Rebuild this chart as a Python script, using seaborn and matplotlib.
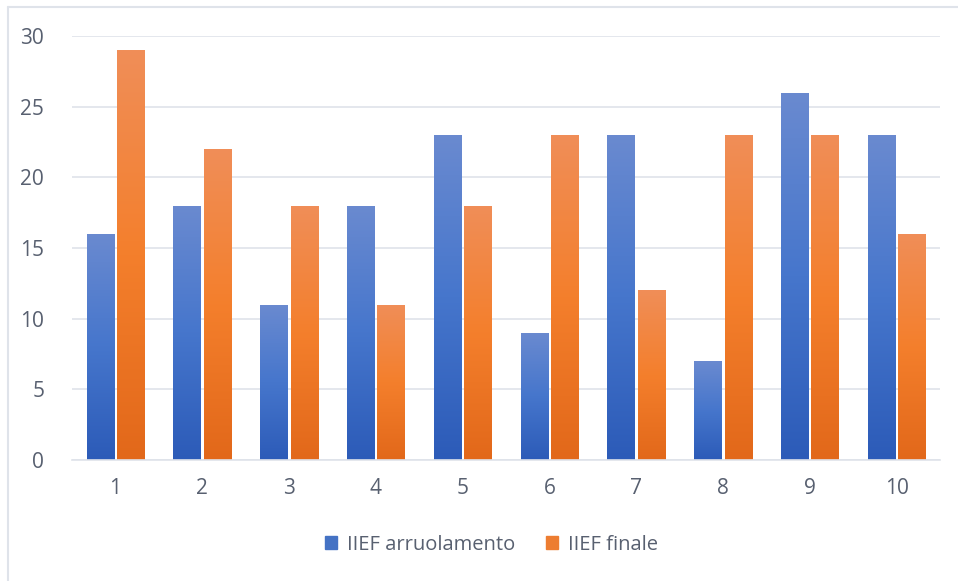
import numpy as np
import pandas as pd
import matplotlib
matplotlib.use('Agg')
import matplotlib.pyplot as plt
from matplotlib.colors import LinearSegmentedColormap
from matplotlib.patches import Rectangle
from matplotlib.lines import Line2D
import seaborn as sns

# Data
pazienti = ['1', '2', '3', '4', '5', '6', '7', '8', '9', '10']
iief_arruolamento = [16, 18, 11, 18, 23, 9, 23, 7, 26, 23]
iief_finale = [29, 22, 18, 11, 18, 23, 12, 23, 23, 16]
serie = ['IIEF arruolamento', 'IIEF finale']

df = pd.DataFrame({
    'Paziente': pazienti * 2,
    'Valore': iief_arruolamento + iief_finale,
    'Serie': [serie[0]] * len(pazienti) + [serie[1]] * len(pazienti),
})

sns.set_theme(style='white')
plt.rcParams['font.family'] = ['Open Sans', 'DejaVu Sans']

W, H = 958, 581
fig = plt.figure(figsize=(9.58, 5.81), dpi=100)
ax = fig.add_axes([72 / W, 1 - 460 / H, 868 / W, 424 / H])

colors = {'IIEF arruolamento': '#4472c4', 'IIEF finale': '#ed7d31'}
sns.barplot(data=df, x='Paziente', y='Valore', hue='Serie', palette=colors,
            width=0.70, gap=0.11, ax=ax, legend=False)

# gradient fill like Excel
grad = {
    'IIEF arruolamento': LinearSegmentedColormap.from_list('b', ['#2c5bb8', '#4676cc', '#6a8ad0']),
    'IIEF finale': LinearSegmentedColormap.from_list('o', ['#e2681a', '#f47f2c', '#f08e58']),
}
ax.set_ylim(0, 30)
ax.set_xlim(-0.5, 9.5)
for cont, name in zip(ax.containers, serie):
    for bar in cont:
        x0, y0 = bar.get_x(), bar.get_y()
        w, h = bar.get_width(), bar.get_height()
        bar.set_facecolor('none')
        bar.set_edgecolor('none')
        g = np.linspace(0, 1, 256).reshape(-1, 1)
        im = ax.imshow(g, cmap=grad[name], origin='lower', aspect='auto',
                       extent=[x0, x0 + w, y0, y0 + h], zorder=2)
        clip = Rectangle((x0, y0), w, h, transform=ax.transData)
        im.set_clip_path(clip)
ax.set_ylim(0, 30)
ax.set_xlim(-0.5, 9.5)

tick_col = '#586070'
ax.set_yticks(range(0, 31, 5))
ax.yaxis.grid(True, color='#dfe3ea', linewidth=1.2)
ax.set_axisbelow(True)
for s in ['top', 'right', 'left']:
    ax.spines[s].set_visible(False)
ax.spines['bottom'].set_color('#dfe3ea')
ax.spines['bottom'].set_linewidth(1.2)
ax.set_xlabel('')
ax.set_ylabel('')
ax.tick_params(axis='both', length=0, labelsize=15, labelcolor=tick_col)
ax.tick_params(axis='y', pad=20)
ax.tick_params(axis='x', pad=13)

handles = [Rectangle((0, 0), 1, 1, color=colors[s]) for s in serie]
fig.legend(handles, serie, loc='center', bbox_to_anchor=(0.513, 0.062), ncol=2,
           frameon=False, fontsize=14.5, labelcolor=tick_col, handlelength=0.6,
           handleheight=0.6, handletextpad=0.5, columnspacing=1.5)

# chart area border (only top and left visible in the source)
fig.add_artist(Line2D([8 / W, 8 / W], [0, 1 - 7 / H], transform=fig.transFigure,
                      color='#dfe3ea', linewidth=1.5))
fig.add_artist(Line2D([8 / W, 1], [1 - 7 / H, 1 - 7 / H], transform=fig.transFigure,
                      color='#dfe3ea', linewidth=1.5))

fig.savefig('out.png', dpi=100)
